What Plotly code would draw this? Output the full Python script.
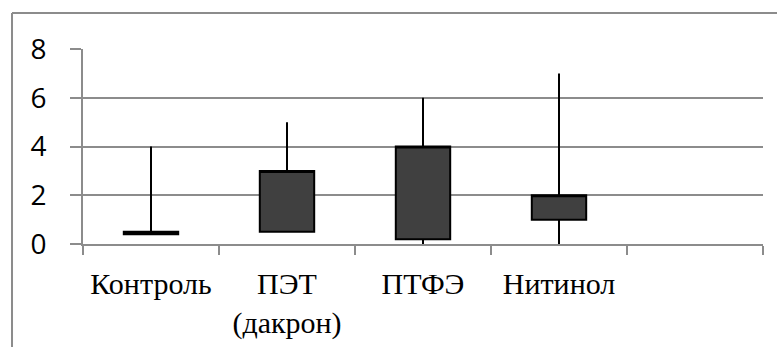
import plotly.graph_objects as go

categories = ["Контроль", "ПЭТ<br>(дакрон)", "ПТФЭ", "Нитинол", " "]
q1_vals = [0.4, 0.5, 0.2, 1.0]
q3_vals = [0.5, 3.0, 4.0, 2.0]
min_vals = [0.4, 0.5, 0.0, 0.0]
max_vals = [4.0, 5.0, 6.0, 7.0]
y_ticks = [0, 2, 4, 6, 8]

fig = go.Figure()
fig.add_trace(go.Box(
    x=categories[:4],
    q1=q1_vals,
    median=q3_vals,
    q3=q3_vals,
    lowerfence=min_vals,
    upperfence=max_vals,
    width=0.4,
    whiskerwidth=0,
    fillcolor="#404040",
    line=dict(color="black", width=2),
    boxpoints=False,
    hoverinfo="skip",
    showlegend=False,
))

grid_col = "#8c8c8c"
fig.update_layout(
    template="none",
    font=dict(family="Liberation Serif", color="black", size=30),
    width=777, height=347,
    margin=dict(l=83, r=14, t=49, b=103),
    paper_bgcolor="white", plot_bgcolor="white",
    xaxis=dict(
        type="category", categoryorder="array", categoryarray=categories,
        range=[-0.5, 4.5], automargin=False,
        tickson="boundaries", ticks="outside", ticklen=9,
        tickcolor=grid_col, tickwidth=2,
        showgrid=False, zeroline=False,
        showline=True, linecolor=grid_col, linewidth=2,
        tickfont=dict(family="Liberation Serif", size=30, color="black"),
        ticklabelstandoff=12,
    ),
    yaxis=dict(
        range=[0, 8], automargin=False,
        tickmode="array", tickvals=y_ticks,
        ticks="outside", ticklen=11, tickcolor=grid_col, tickwidth=2,
        showgrid=True, gridcolor=grid_col, gridwidth=2,
        zeroline=False, showline=True, linecolor=grid_col, linewidth=2,
        tickfont=dict(family="Open Sans", size=28, color="black"),
        ticklabelstandoff=18,
    ),
)

# outer chart-area border (top and left edges visible)
fig.add_shape(type="line", xref="paper", yref="paper",
              x0=-0.1044, x1=1.03, y0=1.1846, y1=1.1846,
              line=dict(color=grid_col, width=2))
fig.add_shape(type="line", xref="paper", yref="paper",
              x0=-0.1044, x1=-0.1044, y0=-0.6, y1=1.1846,
              line=dict(color=grid_col, width=2))

fig.write_html("out.html", config={"displayModeBar": False},
               post_script="document.body.style.margin='0';")
